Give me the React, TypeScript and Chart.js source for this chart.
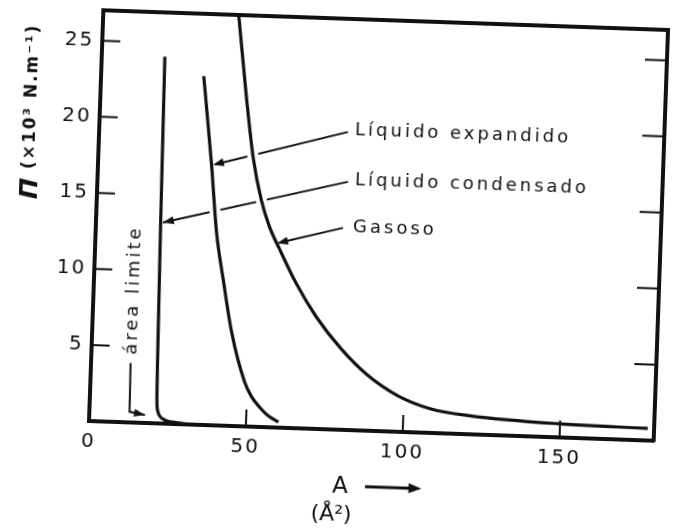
import React, { useEffect, useRef } from "react";
import { Chart, registerables } from "chart.js";

Chart.register(...registerables);

// ---- axes ----
const X_MIN = 0;
const X_MAX = 180;
const Y_MIN = 0;
const Y_MAX = 27;
const xTickValues = [0, 50, 100, 150];
const xInnerTickValues = [50, 100, 150];
const yTickValues = [5, 10, 15, 20, 25];

// ---- curves (A in Å², Π in 10^-3 N/m) ----
const areaLimiteX = [20.1, 20.6, 21.1, 21.4, 21.8, 22.6, 24.0, 26.5, 30.0, 34.0];
const areaLimiteY = [24.1, 13.3, 5.0, 1.5, 0.8, 0.45, 0.25, 0.12, 0.05, 0.02];

const expandidoX = [32.7, 34.4, 36.2, 38.5, 41.3, 44.4, 49.1, 51.4, 53.8, 57.0, 60.3];
const expandidoY = [22.9, 20.1, 17.05, 12.7, 9.45, 6.18, 2.92, 2.0, 1.38, 0.75, 0.37];

const gasosoX = [43.1, 46.6, 49.4, 52.4, 55.3, 58.7, 64.5, 71.2, 79.5, 87.7, 98.1, 108.7, 121.5, 150.0, 178.0];
const gasosoY = [27.1, 21.5, 17.6, 14.9, 13.17, 11.75, 9.49, 7.36, 5.31, 3.73, 2.36, 1.58, 1.21, 0.89, 0.8];

// ---- annotations (data units) ----
const labelTexts = ["Líquido expandido", "Líquido condensado", "Gasoso"];
const labelX = [81.5, 82.0, 81.9];
const labelY = [19.7, 16.4, 13.3];
const arrowFromX = [79.2, 79.8, 78.7];
const arrowFromY = [19.57, 16.3, 13.26];
const arrowToX = [36.6, 21.3, 57.9];
const arrowToY = [17.1, 13.2, 12.1];

const areaLabel = "área limite";
const areaLabelX = 12.9;
const areaLabelY = 8.7;
const areaLeaderX = [12.6, 12.8, 17.75];
const areaLeaderY = [3.9, 0.7, 0.52];

const yTitleMain = "Π";
const yTitleUnit = "(×10³ N.m⁻¹)";
const xTitleMain = "A";
const xTitleUnit = "(Å²)";

const INK = "#111";
const FONT = "'DejaVu Sans', sans-serif";

function arrowHead(ctx: CanvasRenderingContext2D, x0: number, y0: number, x1: number, y1: number, len = 11, half = 4) {
  const a = Math.atan2(y1 - y0, x1 - x0);
  ctx.beginPath();
  ctx.moveTo(x1, y1);
  ctx.lineTo(x1 - len * Math.cos(a) + half * Math.sin(a), y1 - len * Math.sin(a) - half * Math.cos(a));
  ctx.lineTo(x1 - len * Math.cos(a) - half * Math.sin(a), y1 - len * Math.sin(a) + half * Math.cos(a));
  ctx.closePath();
  ctx.fill();
}

const figurePlugin = {
  id: "figureAnnotations",
  beforeDraw(chart: any) {
    (chart.ctx as any).letterSpacing = "2px";
  },
  beforeDatasetsDraw(chart: any) {
    const { ctx, chartArea, scales } = chart;
    const xs = scales.x;
    const ys = scales.y;
    ctx.save();
    (ctx as any).letterSpacing = "0px";
    ctx.strokeStyle = INK;
    ctx.fillStyle = INK;
    ctx.lineCap = "butt";

    // inward tick marks
    ctx.lineWidth = 2;
    xInnerTickValues.forEach((v) => {
      const px = xs.getPixelForValue(v);
      ctx.beginPath();
      ctx.moveTo(px, chartArea.bottom);
      ctx.lineTo(px, chartArea.bottom - 17);
      ctx.stroke();
    });
    yTickValues.forEach((v) => {
      const py = ys.getPixelForValue(v);
      ctx.beginPath();
      ctx.moveTo(chartArea.left, py);
      ctx.lineTo(chartArea.left + 18, py);
      ctx.moveTo(chartArea.right, py);
      ctx.lineTo(chartArea.right - 22, py);
      ctx.stroke();
    });

    // arrow shafts
    ctx.lineWidth = 2;
    for (let i = 0; i < labelTexts.length; i++) {
      ctx.beginPath();
      ctx.moveTo(xs.getPixelForValue(arrowFromX[i]), ys.getPixelForValue(arrowFromY[i]));
      ctx.lineTo(xs.getPixelForValue(arrowToX[i]), ys.getPixelForValue(arrowToY[i]));
      ctx.stroke();
    }
    ctx.beginPath();
    areaLeaderX.forEach((x, i) => {
      const px = xs.getPixelForValue(x);
      const py = ys.getPixelForValue(areaLeaderY[i]);
      if (i === 0) ctx.moveTo(px, py);
      else ctx.lineTo(px, py);
    });
    ctx.stroke();

    // labels
    (ctx as any).letterSpacing = "3px";
    ctx.font = `18px ${FONT}`;
    ctx.textAlign = "left";
    ctx.textBaseline = "middle";
    for (let i = 0; i < labelTexts.length; i++) {
      ctx.fillText(labelTexts[i], xs.getPixelForValue(labelX[i]), ys.getPixelForValue(labelY[i]));
    }
    // área limite (vertical)
    ctx.save();
    ctx.translate(xs.getPixelForValue(areaLabelX), ys.getPixelForValue(areaLabelY));
    ctx.rotate(-Math.PI / 2);
    ctx.textAlign = "center";
    ctx.fillText(areaLabel, 0, 0);
    ctx.restore();
    ctx.restore();
  },
  afterDatasetsDraw(chart: any) {
    const { ctx, chartArea, scales } = chart;
    const xs = scales.x;
    const ys = scales.y;
    ctx.save();
    (ctx as any).letterSpacing = "0px";
    ctx.fillStyle = INK;
    ctx.strokeStyle = INK;
    for (let i = 0; i < labelTexts.length; i++) {
      arrowHead(
        ctx,
        xs.getPixelForValue(arrowFromX[i]),
        ys.getPixelForValue(arrowFromY[i]),
        xs.getPixelForValue(arrowToX[i]),
        ys.getPixelForValue(arrowToY[i])
      );
    }
    const n = areaLeaderX.length;
    arrowHead(
      ctx,
      xs.getPixelForValue(areaLeaderX[n - 2]),
      ys.getPixelForValue(areaLeaderY[n - 2]),
      xs.getPixelForValue(areaLeaderX[n - 1]),
      ys.getPixelForValue(areaLeaderY[n - 1])
    );

    // y-axis title (rotated)
    ctx.save();
    ctx.translate(chartArea.left - 68, ys.getPixelForValue(20.2));
    ctx.rotate(-Math.PI / 2);
    ctx.textBaseline = "middle";
    ctx.textAlign = "left";
    const mainFont = `bold italic 25px ${FONT}`;
    const unitFont = `bold 17px ${FONT}`;
    ctx.font = mainFont;
    const wMain = ctx.measureText(yTitleMain).width;
    ctx.font = unitFont;
    (ctx as any).letterSpacing = "2px";
    const wUnit = ctx.measureText(yTitleUnit).width;
    const gap = 9;
    const total = wMain + gap + wUnit;
    ctx.font = mainFont;
    (ctx as any).letterSpacing = "0px";
    ctx.fillText(yTitleMain, -total / 2, 1);
    ctx.font = unitFont;
    (ctx as any).letterSpacing = "2px";
    ctx.fillText(yTitleUnit, -total / 2 + wMain + gap, 0);
    ctx.restore();

    // x-axis title with arrow
    (ctx as any).letterSpacing = "0px";
    ctx.textAlign = "center";
    ctx.textBaseline = "middle";
    ctx.font = `23px ${FONT}`;
    ctx.fillText(xTitleMain, xs.getPixelForValue(80.6), chartArea.bottom + 57);
    const ax0 = xs.getPixelForValue(88.6);
    const ax1 = xs.getPixelForValue(106.6);
    const ay = chartArea.bottom + 56;
    ctx.lineWidth = 3;
    ctx.beginPath();
    ctx.moveTo(ax0, ay);
    ctx.lineTo(ax1 - 6, ay);
    ctx.stroke();
    arrowHead(ctx, ax0, ay, ax1, ay, 13, 5);
    ctx.font = `22px ${FONT}`;
    ctx.fillText(xTitleUnit, xs.getPixelForValue(78.1), chartArea.bottom + 85);
    ctx.restore();
  },
};

export default function App() {
  const ref = useRef<HTMLCanvasElement>(null);

  useEffect(() => {
    const canvas = ref.current;
    if (!canvas) return;
    const pts = (xs: number[], ys: number[]) => xs.map((x, i) => ({ x, y: ys[i] }));
    const band = (xs: number[], ys: number[], lo: number, hi: number) =>
      pts(xs, ys).filter((p) => p.y >= lo && p.y <= hi);

    const curve = {
      borderColor: INK,
      borderWidth: 3.2,
      pointRadius: 0,
      fill: false,
      tension: 0.4,
      cubicInterpolationMode: "monotone" as const,
      order: 1,
    };
    const halo = {
      borderColor: "#ffffff",
      borderWidth: 11,
      pointRadius: 0,
      fill: false,
      tension: 0.4,
      cubicInterpolationMode: "monotone" as const,
      order: 2,
    };

    const border = { display: true, color: INK, width: 4 };
    const noGrid = { display: false, drawTicks: false };

    const chart = new Chart(canvas, {
      type: "line",
      data: {
        datasets: [
          { label: "halo gasoso", data: band(gasosoX, gasosoY, 11, 22), ...halo },
          { label: "halo expandido", data: band(expandidoX, expandidoY, 10, 21), ...halo },
          { label: "Área límite", data: pts(areaLimiteX, areaLimiteY), ...curve },
          { label: "Líquido expandido", data: pts(expandidoX, expandidoY), ...curve },
          { label: "Gasoso", data: pts(gasosoX, gasosoY), ...curve },
        ],
      },
      options: {
        responsive: false,
        animation: false,
        layout: { padding: 0 },
        plugins: { legend: { display: false }, tooltip: { enabled: false } },
        scales: {
          x: {
            type: "linear",
            position: "bottom",
            min: X_MIN,
            max: X_MAX,
            grid: noGrid,
            border,
            ticks: { color: INK, font: { family: FONT, size: 20 }, padding: 9, maxRotation: 0, autoSkip: false },
            afterBuildTicks: (s: any) => {
              s.ticks = xTickValues.map((v) => ({ value: v }));
            },
            afterFit: (s: any) => {
              s.height = 100;
            },
          },
          x2: {
            type: "linear",
            position: "top",
            min: X_MIN,
            max: X_MAX,
            grid: noGrid,
            border,
            ticks: { display: false },
            afterFit: (s: any) => {
              s.height = 20;
            },
          },
          y: {
            type: "linear",
            position: "left",
            min: Y_MIN,
            max: Y_MAX,
            grid: noGrid,
            border,
            ticks: { color: INK, font: { family: FONT, size: 20 }, padding: 8, autoSkip: false },
            afterBuildTicks: (s: any) => {
              s.ticks = yTickValues.map((v) => ({ value: v }));
            },
            afterFit: (s: any) => {
              s.width = 96;
            },
          },
          y2: {
            type: "linear",
            position: "right",
            min: Y_MIN,
            max: Y_MAX,
            grid: noGrid,
            border,
            ticks: { display: false },
            afterFit: (s: any) => {
              s.width = 18;
            },
          },
        },
      } as any,
      plugins: [figurePlugin as any],
    });
    return () => chart.destroy();
  }, []);

  return (
    <div
      style={{
        position: "fixed",
        left: 0,
        top: 0,
        width: 679,
        height: 531,
        overflow: "hidden",
        background: "#fff",
      }}
    >
      <canvas
        ref={ref}
        width={679}
        height={531}
        style={{
          display: "block",
          width: 679,
          height: 531,
          transform: "rotate(2deg)",
          transformOrigin: "378.5px 225.75px",
        }}
      />
    </div>
  );
}
